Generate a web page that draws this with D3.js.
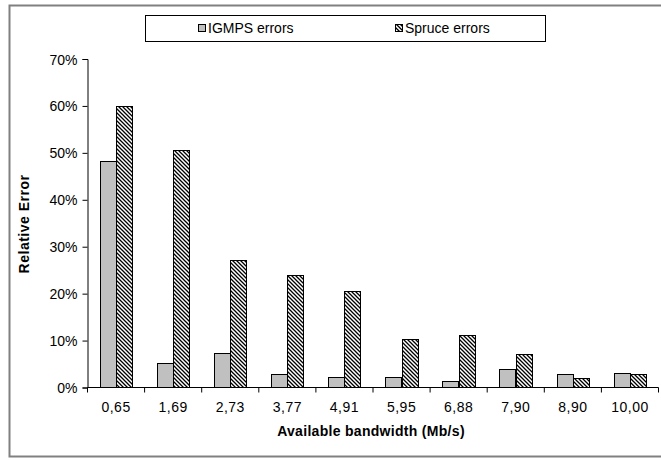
<!DOCTYPE html>
<html>
<head>
<meta charset="utf-8">
<script src="https://cdn.jsdelivr.net/npm/d3@7"></script>
<style>
  html, body { margin: 0; padding: 0; background: #fff; }
  svg { display: block; font-family: "Liberation Sans", Arial, sans-serif; }
</style>
</head>
<body>
<script>
const categories = ["0,65", "1,69", "2,73", "3,77", "4,91", "5,95", "6,88", "7,90", "8,90", "10,00"];
const igmpsErrors = [48.2, 5.3, 7.4, 2.8, 2.3, 2.3, 1.4, 4.0, 2.8, 3.1];
const spruceErrors = [60.0, 50.7, 27.1, 23.9, 20.6, 10.4, 11.1, 7.2, 2.1, 2.8];
const seriesNames = ["IGMPS errors", "Spruce errors"];
const yTicks = [0, 10, 20, 30, 40, 50, 60, 70];

const W = 661, H = 460;
const svg = d3.select("body").append("svg").attr("width", W).attr("height", H);

const defs = svg.append("defs");
const pat = defs.append("pattern").attr("id", "hatch")
  .attr("patternUnits", "userSpaceOnUse").attr("width", 4).attr("height", 4);
pat.append("rect").attr("width", 4).attr("height", 4).attr("fill", "#fff");
pat.append("path").attr("d", "M-1,-1 L5,5 M-1,3 L1,5 M3,-1 L5,1")
  .attr("stroke", "#000").attr("stroke-width", 1.3);

// outer border
svg.append("rect").attr("x", 9.5).attr("y", 5.5).attr("width", 660).attr("height", 451)
  .attr("fill", "none").attr("stroke", "#808080").attr("stroke-width", 2);

const x0 = 87.5, x1 = 658.5, y0 = 387.5, y1 = 59;
const x = d3.scaleBand().domain(categories).range([x0, x1]).paddingInner(0).paddingOuter(0);
const y = d3.scaleLinear().domain([0, 70]).range([y0, y1]);
const bw = x.bandwidth() / 3.5;

const data = categories.map((c, i) => ({ c, v: [igmpsErrors[i], spruceErrors[i]] }));
const fills = ["#c0c0c0", "url(#hatch)"];

const g = svg.append("g");
data.forEach(d => {
  d.v.forEach((v, k) => {
    const bx = x(d.c) + 0.75 * bw + k * bw;
    g.append("rect")
      .attr("x", Math.round(bx) + 0.5)
      .attr("y", Math.round(y(v)) + 0.5)
      .attr("width", Math.round(bw))
      .attr("height", y0 - Math.round(y(v)) - 0.5)
      .attr("fill", fills[k]).attr("stroke", "#000").attr("stroke-width", 1);
  });
});

// y axis
const yAxis = d3.axisLeft(y).tickValues(yTicks).tickFormat(d => d + "%").tickSize(5).tickPadding(5);
const ya = svg.append("g").attr("transform", `translate(${x0},0)`).call(yAxis);
ya.select(".domain").attr("stroke", "#000");
ya.selectAll("text").attr("font-size", 14).attr("fill", "#000").attr("dy", "0.36em")
  .attr("font-family", "Liberation Sans, Arial, sans-serif");

// x axis
const xAxis = d3.axisBottom(x).tickSizeOuter(0).tickSize(0).tickPadding(15);
const xa = svg.append("g").attr("transform", `translate(0,${y0})`).call(xAxis);
xa.select(".domain").attr("stroke", "#000").attr("d", `M${x0},0H${x1}`);
xa.selectAll("text").attr("font-size", 14).attr("fill", "#000").attr("letter-spacing", 0.5)
  .attr("font-family", "Liberation Sans, Arial, sans-serif");
// category separators ticks
xa.selectAll(".sep").data(categories.concat(["end"])).enter().append("line")
  .attr("class", "sep")
  .attr("x1", (d, i) => x0 + i * x.step()).attr("x2", (d, i) => x0 + i * x.step())
  .attr("y1", 0).attr("y2", 5).attr("stroke", "#000");

// axis titles
svg.append("text").attr("x", 371).attr("y", 436)
  .attr("text-anchor", "middle").attr("font-size", 14).attr("font-weight", "bold")
  .attr("letter-spacing", 0.3)
  .text("Available bandwidth (Mb/s)");
svg.append("text").attr("transform", `translate(29,224) rotate(-90)`)
  .attr("text-anchor", "middle").attr("font-size", 14).attr("font-weight", "bold")
  .attr("letter-spacing", 0.5)
  .text("Relative Error");

// legend
const lg = svg.append("g");
lg.append("rect").attr("x", 145.5).attr("y", 15.5).attr("width", 400).attr("height", 26)
  .attr("fill", "#fff").attr("stroke", "#000");
const legX = [198, 395];
seriesNames.forEach((n, k) => {
  lg.append("rect").attr("x", legX[k] + 0.5).attr("y", 24.5).attr("width", 7).attr("height", 7)
    .attr("fill", fills[k]).attr("stroke", "#000");
  lg.append("text").attr("x", legX[k] + 10).attr("y", 33).attr("font-size", 14).text(n);
});
</script>
</body>
</html>
